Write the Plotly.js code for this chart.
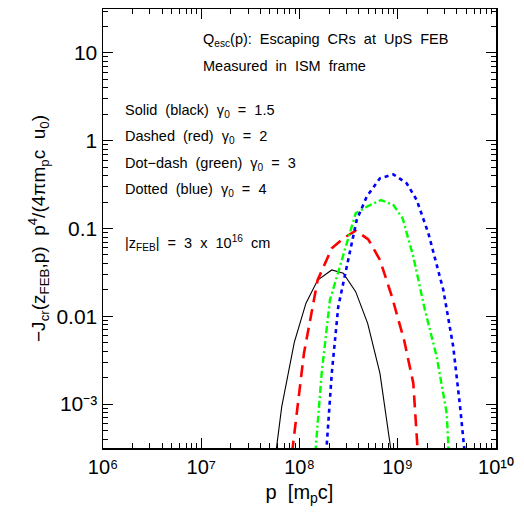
<!DOCTYPE html>
<html><head><meta charset="utf-8">
<script src="https://cdn.plot.ly/plotly-3.0.1.min.js"></script>
<style>html,body{margin:0;padding:0;background:#fff}#plot{width:524px;height:515px}</style>
</head><body><div id="plot"></div>
<script>
// p [m_p c] and -J_cr p^4/(4 pi m_p c u0)
const pBlack = [5.75e7, 6.59e7, 8.85e7, 1.164e8, 1.531e8, 2.13e8, 2.79e8, 3.73e8, 4.94e8, 6.59e8, 8.6e8];
const yBlack = [2.8e-4, 9.3e-4, 5.06e-3, 0.0141, 0.0259, 0.0337, 0.0309, 0.0191, 8.3e-3, 2.24e-3, 2.8e-4];

const pRed = [8.4e7, 1.11e8, 1.53e8, 2.13e8, 2.79e8, 3.73e8, 5.01e8, 6.59e8, 8.73e8, 1.16e9, 1.44e9, 1.6e9];
const yRed = [2.8e-4, 3.79e-3, 0.0259, 0.0594, 0.0773, 0.0944, 0.0753, 0.0438, 0.0167, 5.37e-3, 1.73e-3, 2.8e-4];

const pGreen = [1.45e8, 1.68e8, 2.04e8, 2.74e8, 3.73e8, 4.83e8, 6.76e8, 9.02e8, 1.12e9, 1.44e9, 1.89e9, 2.49e9, 3.15e9, 3.3e9];
const yGreen = [2.8e-4, 2.24e-3, 0.0153, 0.0478, 0.149, 0.177, 0.211, 0.185, 0.131, 0.0478, 0.0118, 3.47e-3, 7.85e-4, 2.8e-4];

const pBlue = [1.87e8, 2.13e8, 2.48e8, 3.02e8, 3.82e8, 4.83e8, 6.59e8, 9.02e8, 1.233e9, 1.56e9, 2.05e9, 2.91e9, 3.67e9, 4.31e9, 4.8e9];
const yBlue = [2.8e-4, 2.24e-3, 0.01285, 0.0367, 0.125, 0.230, 0.373, 0.414, 0.327, 0.211, 0.0881, 0.01995, 4.51e-3, 9.33e-4, 2.8e-4];

const xTickVals = [1e6, 1e7, 1e8, 1e9, 1e10];
const xTickText = ['10⁶', '10⁷', '10⁸', '10⁹', '10¹⁰'];
const yTickVals = [1e-3, 0.01, 0.1, 1, 10];
const yTickText = ['10⁻³', '0.01', '0.1', '1', '10'];

const FONT = 'Liberation Sans, Arial, sans-serif';

const traces = [
  {x: pBlack, y: yBlack, mode: 'lines', line: {color: '#000000', width: 1.1}},
  {x: pRed, y: yRed, mode: 'lines', line: {color: '#ff0000', width: 2.6, dash: '12px,7px'}},
  {x: pGreen, y: yGreen, mode: 'lines', line: {color: '#00ff00', width: 2.4, dash: '7px,3px,2px,3px'}},
  {x: pBlue, y: yBlue, mode: 'lines', line: {color: '#0000ff', width: 2.6, dash: '4px,4px'}}
];

const base = {
  type: 'log', showgrid: false, zeroline: false,
  showline: true, linecolor: '#000', linewidth: 1.5, mirror: 'allticks',
  ticks: 'inside', ticklen: 10, tickwidth: 1, tickcolor: '#000',
  minor: {ticks: 'inside', ticklen: 5, tickwidth: 1, tickcolor: '#000', dtick: 'D1'},
  tickmode: 'array'
};

const ann = (text, x, y) => ({xref: 'paper', yref: 'paper', x: x, y: y, xanchor: 'left', yanchor: 'middle',
  text: text, showarrow: false, font: {family: FONT, size: 14.5, color: '#000'}});

const L = 103, R = 496, T = 9, B = 448;
const px = v => (v - L) / (R - L);
const py = v => (B - v) / (B - T);

const layout = {
  width: 524, height: 515,
  margin: {l: 103, r: 28, t: 9, b: 67},
  showlegend: false,
  xaxis: Object.assign({}, base, {range: [6, 10], tickvals: xTickVals, ticktext: xTickText,
    tickfont: {family: FONT, size: 20, color: '#000'},
    title: {text: 'p  [m<sub>p</sub>c]', font: {family: FONT, size: 20, color: '#000'}, standoff: 8}}),
  yaxis: Object.assign({}, base, {range: [-3.5, 1.5], tickvals: yTickVals, ticktext: yTickText,
    ticksuffix: '\u00a0\u00a0', tickfont: {family: FONT, size: 21, color: '#000'},
    title: {text: '−J<sub>cr</sub>(z<sub>FEB</sub>,p)  p<sup>4</sup>/(4πm<sub>p</sub>c  u<sub>0</sub>)', font: {family: FONT, size: 19, color: '#000'}, standoff: 6}}),
  annotations: [
    ann('Q<sub>esc</sub>(p):  Escaping  CRs  at  UpS  FEB', px(201), py(40)),
    ann('Measured  in  ISM  frame', px(201), py(66)),
    ann('Solid  (black)  γ<sub>0</sub>  =  1.5', px(123), py(111)),
    ann('Dashed  (red)  γ<sub>0</sub>  =  2', px(123), py(137)),
    ann('Dot−dash  (green)  γ<sub>0</sub>  =  3', px(123), py(164)),
    ann('Dotted  (blue)  γ<sub>0</sub>  =  4', px(123), py(190)),
    ann('|z<sub>FEB</sub>|  =  3  x  10<sup>16</sup>  cm', px(123), py(243))
  ]
};

Plotly.newPlot('plot', traces, layout, {staticPlot: true, displayModeBar: false});
</script></body></html>
